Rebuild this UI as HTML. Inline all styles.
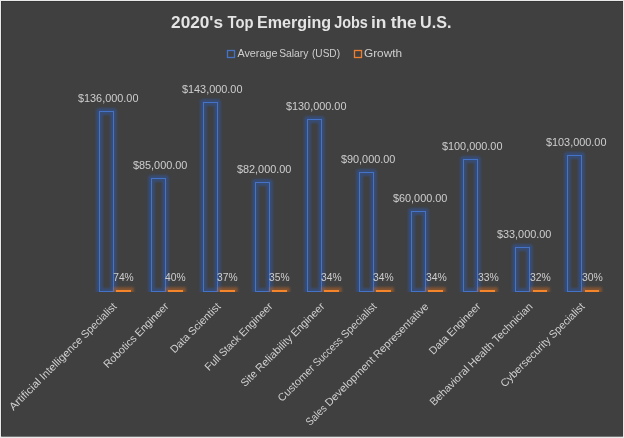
<!DOCTYPE html>
<html><head><meta charset="utf-8"><title>chart</title>
<style>
html,body{margin:0;padding:0;background:#e9e9e9;}
body{width:624px;height:438px;overflow:hidden;font-family:"Liberation Sans",sans-serif;}
svg{display:block;position:absolute;left:0;top:0;will-change:transform;}
text{font-family:"Liberation Sans",sans-serif;}
</style></head><body>
<svg width="624" height="438" viewBox="0 0 624 438">
<defs>
<filter id="gl" filterUnits="userSpaceOnUse" x="0" y="0" width="624" height="438"><feGaussianBlur stdDeviation="0.85"/></filter>
<filter id="gl2" filterUnits="userSpaceOnUse" x="0" y="0" width="624" height="438"><feGaussianBlur stdDeviation="0.85"/></filter>
<clipPath id="plot"><rect x="60" y="70" width="560" height="222"/></clipPath>
</defs>
<rect x="0" y="0" width="624" height="438" fill="#e9e9e9"/>
<rect x="1" y="1" width="622" height="435.5" fill="#333333"/>
<rect x="1.6" y="1.6" width="621.2" height="434.7" fill="#404040"/>

<text x="171.08" y="27.7" font-size="16.6" font-weight="bold" fill="#e4e4e4" textLength="51.88" lengthAdjust="spacingAndGlyphs">2020's</text>
<text x="227.47" y="27.7" font-size="16.6" font-weight="bold" fill="#e4e4e4" textLength="26.02" lengthAdjust="spacingAndGlyphs">Top</text>
<text x="256.91" y="27.7" font-size="16.6" font-weight="bold" fill="#e4e4e4" textLength="74.30" lengthAdjust="spacingAndGlyphs">Emerging</text>
<text x="334.13" y="27.7" font-size="16.6" font-weight="bold" fill="#e4e4e4" textLength="33.71" lengthAdjust="spacingAndGlyphs">Jobs</text>
<text x="370.97" y="27.7" font-size="16.6" font-weight="bold" fill="#e4e4e4" textLength="15.45" lengthAdjust="spacingAndGlyphs">in</text>
<text x="390.73" y="27.7" font-size="16.6" font-weight="bold" fill="#e4e4e4" textLength="26.07" lengthAdjust="spacingAndGlyphs">the</text>
<text x="420.06" y="27.7" font-size="16.6" font-weight="bold" fill="#e4e4e4" textLength="31.31" lengthAdjust="spacingAndGlyphs">U.S.</text>
<rect x="227.5" y="50.5" width="7" height="7" fill="none" stroke="#4573c7" stroke-width="1.3"/>
<text x="237.41" y="56.80" font-size="10.8" font-weight="normal" fill="#cecece" textLength="40.03" lengthAdjust="spacingAndGlyphs">Average</text>
<text x="279.24" y="56.80" font-size="10.8" font-weight="normal" fill="#cecece" textLength="29.20" lengthAdjust="spacingAndGlyphs">Salary</text>
<text x="311.98" y="56.80" font-size="10.8" font-weight="normal" fill="#cecece" textLength="28.06" lengthAdjust="spacingAndGlyphs">(USD)</text>
<rect x="354.5" y="50.5" width="7" height="7" fill="none" stroke="#ee7f30" stroke-width="1.3"/>
<text x="363.98" y="56.80" font-size="10.8" font-weight="normal" fill="#cecece" textLength="38.13" lengthAdjust="spacingAndGlyphs">Growth</text>
<g clip-path="url(#plot)">
<rect x="99.5" y="111.5" width="14" height="180.0" fill="none" stroke="#2c5fc4" stroke-width="6.8" stroke-linejoin="round" opacity="0.40" filter="url(#gl)"/>
<rect x="99.5" y="111.5" width="14" height="180.0" fill="none" stroke="#4573c7" stroke-width="1"/>
<rect x="116.5" y="290.5" width="14" height="1" fill="#ed7d31" stroke="#e8721c" stroke-width="6.6" opacity="0.38" filter="url(#gl2)"/>
<rect x="116" y="290" width="15" height="2" fill="#f5852a"/>
<rect x="151.5" y="178.5" width="14" height="113.0" fill="none" stroke="#2c5fc4" stroke-width="6.8" stroke-linejoin="round" opacity="0.40" filter="url(#gl)"/>
<rect x="151.5" y="178.5" width="14" height="113.0" fill="none" stroke="#4573c7" stroke-width="1"/>
<rect x="168.5" y="290.5" width="14" height="1" fill="#ed7d31" stroke="#e8721c" stroke-width="6.6" opacity="0.38" filter="url(#gl2)"/>
<rect x="168" y="290" width="15" height="2" fill="#f5852a"/>
<rect x="203.5" y="102.5" width="14" height="189.0" fill="none" stroke="#2c5fc4" stroke-width="6.8" stroke-linejoin="round" opacity="0.40" filter="url(#gl)"/>
<rect x="203.5" y="102.5" width="14" height="189.0" fill="none" stroke="#4573c7" stroke-width="1"/>
<rect x="220.5" y="290.5" width="14" height="1" fill="#ed7d31" stroke="#e8721c" stroke-width="6.6" opacity="0.38" filter="url(#gl2)"/>
<rect x="220" y="290" width="15" height="2" fill="#f5852a"/>
<rect x="255.5" y="182.5" width="14" height="109.0" fill="none" stroke="#2c5fc4" stroke-width="6.8" stroke-linejoin="round" opacity="0.40" filter="url(#gl)"/>
<rect x="255.5" y="182.5" width="14" height="109.0" fill="none" stroke="#4573c7" stroke-width="1"/>
<rect x="272.5" y="290.5" width="14" height="1" fill="#ed7d31" stroke="#e8721c" stroke-width="6.6" opacity="0.38" filter="url(#gl2)"/>
<rect x="272" y="290" width="15" height="2" fill="#f5852a"/>
<rect x="307.5" y="119.5" width="14" height="172.0" fill="none" stroke="#2c5fc4" stroke-width="6.8" stroke-linejoin="round" opacity="0.40" filter="url(#gl)"/>
<rect x="307.5" y="119.5" width="14" height="172.0" fill="none" stroke="#4573c7" stroke-width="1"/>
<rect x="324.5" y="290.5" width="14" height="1" fill="#ed7d31" stroke="#e8721c" stroke-width="6.6" opacity="0.38" filter="url(#gl2)"/>
<rect x="324" y="290" width="15" height="2" fill="#f5852a"/>
<rect x="359.5" y="172.5" width="14" height="119.0" fill="none" stroke="#2c5fc4" stroke-width="6.8" stroke-linejoin="round" opacity="0.40" filter="url(#gl)"/>
<rect x="359.5" y="172.5" width="14" height="119.0" fill="none" stroke="#4573c7" stroke-width="1"/>
<rect x="376.5" y="290.5" width="14" height="1" fill="#ed7d31" stroke="#e8721c" stroke-width="6.6" opacity="0.38" filter="url(#gl2)"/>
<rect x="376" y="290" width="15" height="2" fill="#f5852a"/>
<rect x="411.5" y="211.5" width="14" height="80.0" fill="none" stroke="#2c5fc4" stroke-width="6.8" stroke-linejoin="round" opacity="0.40" filter="url(#gl)"/>
<rect x="411.5" y="211.5" width="14" height="80.0" fill="none" stroke="#4573c7" stroke-width="1"/>
<rect x="428.5" y="290.5" width="14" height="1" fill="#ed7d31" stroke="#e8721c" stroke-width="6.6" opacity="0.38" filter="url(#gl2)"/>
<rect x="428" y="290" width="15" height="2" fill="#f5852a"/>
<rect x="463.5" y="159.5" width="14" height="132.0" fill="none" stroke="#2c5fc4" stroke-width="6.8" stroke-linejoin="round" opacity="0.40" filter="url(#gl)"/>
<rect x="463.5" y="159.5" width="14" height="132.0" fill="none" stroke="#4573c7" stroke-width="1"/>
<rect x="480.5" y="290.5" width="14" height="1" fill="#ed7d31" stroke="#e8721c" stroke-width="6.6" opacity="0.38" filter="url(#gl2)"/>
<rect x="480" y="290" width="15" height="2" fill="#f5852a"/>
<rect x="515.5" y="247.5" width="14" height="44.0" fill="none" stroke="#2c5fc4" stroke-width="6.8" stroke-linejoin="round" opacity="0.40" filter="url(#gl)"/>
<rect x="515.5" y="247.5" width="14" height="44.0" fill="none" stroke="#4573c7" stroke-width="1"/>
<rect x="533.5" y="290.5" width="13" height="1" fill="#ed7d31" stroke="#e8721c" stroke-width="6.6" opacity="0.38" filter="url(#gl2)"/>
<rect x="533" y="290" width="14" height="2" fill="#f5852a"/>
<rect x="567.5" y="155.5" width="14" height="136.0" fill="none" stroke="#2c5fc4" stroke-width="6.8" stroke-linejoin="round" opacity="0.40" filter="url(#gl)"/>
<rect x="567.5" y="155.5" width="14" height="136.0" fill="none" stroke="#4573c7" stroke-width="1"/>
<rect x="585.5" y="290.5" width="13" height="1" fill="#ed7d31" stroke="#e8721c" stroke-width="6.6" opacity="0.38" filter="url(#gl2)"/>
<rect x="585" y="290" width="14" height="2" fill="#f5852a"/>
</g>
<text x="77.95" y="101.60" font-size="10.8" font-weight="normal" fill="#cecece" textLength="60.51" lengthAdjust="spacingAndGlyphs">$136,000.00</text>
<text x="113.20" y="280.80" font-size="10.8" font-weight="normal" fill="#cecece" textLength="20.57" lengthAdjust="spacingAndGlyphs">74%</text>
<g transform="translate(117.3,307.1) rotate(-45)"><text x="-146.94" y="0" font-size="10.8" fill="#cecece" textLength="40.30" lengthAdjust="spacingAndGlyphs">Artificial</text><text x="-103.96" y="0" font-size="10.8" fill="#cecece" textLength="56.08" lengthAdjust="spacingAndGlyphs">Intelligence</text><text x="-45.19" y="0" font-size="10.8" fill="#cecece" textLength="45.19" lengthAdjust="spacingAndGlyphs">Specialist</text></g>
<text x="132.90" y="168.60" font-size="10.8" font-weight="normal" fill="#cecece" textLength="54.50" lengthAdjust="spacingAndGlyphs">$85,000.00</text>
<text x="165.00" y="280.80" font-size="10.8" font-weight="normal" fill="#cecece" textLength="20.58" lengthAdjust="spacingAndGlyphs">40%</text>
<g transform="translate(169.3,307.1) rotate(-45)"><text x="-86.99" y="0" font-size="10.8" fill="#cecece" textLength="41.65" lengthAdjust="spacingAndGlyphs">Robotics</text><text x="-42.64" y="0" font-size="10.8" fill="#cecece" textLength="42.64" lengthAdjust="spacingAndGlyphs">Engineer</text></g>
<text x="181.95" y="92.60" font-size="10.8" font-weight="normal" fill="#cecece" textLength="60.51" lengthAdjust="spacingAndGlyphs">$143,000.00</text>
<text x="217.10" y="280.80" font-size="10.8" font-weight="normal" fill="#cecece" textLength="20.60" lengthAdjust="spacingAndGlyphs">37%</text>
<g transform="translate(221.3,307.1) rotate(-45)"><text x="-66.15" y="0" font-size="10.8" fill="#cecece" textLength="22.71" lengthAdjust="spacingAndGlyphs">Data</text><text x="-40.75" y="0" font-size="10.8" fill="#cecece" textLength="40.75" lengthAdjust="spacingAndGlyphs">Scientist</text></g>
<text x="236.90" y="172.60" font-size="10.8" font-weight="normal" fill="#cecece" textLength="54.50" lengthAdjust="spacingAndGlyphs">$82,000.00</text>
<text x="269.10" y="280.80" font-size="10.8" font-weight="normal" fill="#cecece" textLength="20.60" lengthAdjust="spacingAndGlyphs">35%</text>
<g transform="translate(273.3,307.1) rotate(-45)"><text x="-90.78" y="0" font-size="10.8" fill="#cecece" textLength="17.16" lengthAdjust="spacingAndGlyphs">Full</text><text x="-70.93" y="0" font-size="10.8" fill="#cecece" textLength="25.60" lengthAdjust="spacingAndGlyphs">Stack</text><text x="-42.64" y="0" font-size="10.8" fill="#cecece" textLength="42.64" lengthAdjust="spacingAndGlyphs">Engineer</text></g>
<text x="285.95" y="109.60" font-size="10.8" font-weight="normal" fill="#cecece" textLength="60.51" lengthAdjust="spacingAndGlyphs">$130,000.00</text>
<text x="321.10" y="280.80" font-size="10.8" font-weight="normal" fill="#cecece" textLength="20.60" lengthAdjust="spacingAndGlyphs">34%</text>
<g transform="translate(325.3,307.1) rotate(-45)"><text x="-113.47" y="0" font-size="10.8" fill="#cecece" textLength="18.10" lengthAdjust="spacingAndGlyphs">Site</text><text x="-92.67" y="0" font-size="10.8" fill="#cecece" textLength="47.34" lengthAdjust="spacingAndGlyphs">Reliability</text><text x="-42.64" y="0" font-size="10.8" fill="#cecece" textLength="42.64" lengthAdjust="spacingAndGlyphs">Engineer</text></g>
<text x="340.90" y="162.60" font-size="10.8" font-weight="normal" fill="#cecece" textLength="54.50" lengthAdjust="spacingAndGlyphs">$90,000.00</text>
<text x="373.10" y="280.80" font-size="10.8" font-weight="normal" fill="#cecece" textLength="20.60" lengthAdjust="spacingAndGlyphs">34%</text>
<g transform="translate(377.3,307.1) rotate(-45)"><text x="-134.67" y="0" font-size="10.8" fill="#cecece" textLength="47.09" lengthAdjust="spacingAndGlyphs">Customer</text><text x="-84.89" y="0" font-size="10.8" fill="#cecece" textLength="37.01" lengthAdjust="spacingAndGlyphs">Success</text><text x="-45.19" y="0" font-size="10.8" fill="#cecece" textLength="45.19" lengthAdjust="spacingAndGlyphs">Specialist</text></g>
<text x="392.90" y="201.60" font-size="10.8" font-weight="normal" fill="#cecece" textLength="54.50" lengthAdjust="spacingAndGlyphs">$60,000.00</text>
<text x="425.90" y="280.80" font-size="10.8" font-weight="normal" fill="#cecece" textLength="20.87" lengthAdjust="spacingAndGlyphs">34%</text>
<g transform="translate(429.3,307.1) rotate(-45)"><text x="-168.57" y="0" font-size="10.8" fill="#cecece" textLength="24.47" lengthAdjust="spacingAndGlyphs">Sales</text><text x="-141.41" y="0" font-size="10.8" fill="#cecece" textLength="65.47" lengthAdjust="spacingAndGlyphs">Development</text><text x="-73.25" y="0" font-size="10.8" fill="#cecece" textLength="73.25" lengthAdjust="spacingAndGlyphs">Representative</text></g>
<text x="441.95" y="149.60" font-size="10.8" font-weight="normal" fill="#cecece" textLength="60.51" lengthAdjust="spacingAndGlyphs">$100,000.00</text>
<text x="477.90" y="280.80" font-size="10.8" font-weight="normal" fill="#cecece" textLength="20.87" lengthAdjust="spacingAndGlyphs">33%</text>
<g transform="translate(481.3,307.1) rotate(-45)"><text x="-68.04" y="0" font-size="10.8" fill="#cecece" textLength="22.71" lengthAdjust="spacingAndGlyphs">Data</text><text x="-42.64" y="0" font-size="10.8" fill="#cecece" textLength="42.64" lengthAdjust="spacingAndGlyphs">Engineer</text></g>
<text x="496.90" y="237.60" font-size="10.8" font-weight="normal" fill="#cecece" textLength="54.50" lengthAdjust="spacingAndGlyphs">$33,000.00</text>
<text x="529.90" y="280.80" font-size="10.8" font-weight="normal" fill="#cecece" textLength="20.87" lengthAdjust="spacingAndGlyphs">32%</text>
<g transform="translate(533.3,307.1) rotate(-45)"><text x="-140.37" y="0" font-size="10.8" fill="#cecece" textLength="51.31" lengthAdjust="spacingAndGlyphs">Behavioral</text><text x="-86.38" y="0" font-size="10.8" fill="#cecece" textLength="32.00" lengthAdjust="spacingAndGlyphs">Health</text><text x="-51.69" y="0" font-size="10.8" fill="#cecece" textLength="51.69" lengthAdjust="spacingAndGlyphs">Technician</text></g>
<text x="545.95" y="145.60" font-size="10.8" font-weight="normal" fill="#cecece" textLength="60.51" lengthAdjust="spacingAndGlyphs">$103,000.00</text>
<text x="581.90" y="280.80" font-size="10.8" font-weight="normal" fill="#cecece" textLength="20.87" lengthAdjust="spacingAndGlyphs">30%</text>
<g transform="translate(585.3,307.1) rotate(-45)"><text x="-114.06" y="0" font-size="10.8" fill="#cecece" textLength="66.18" lengthAdjust="spacingAndGlyphs">Cybersecurity</text><text x="-45.19" y="0" font-size="10.8" fill="#cecece" textLength="45.19" lengthAdjust="spacingAndGlyphs">Specialist</text></g>
</svg></body></html>
